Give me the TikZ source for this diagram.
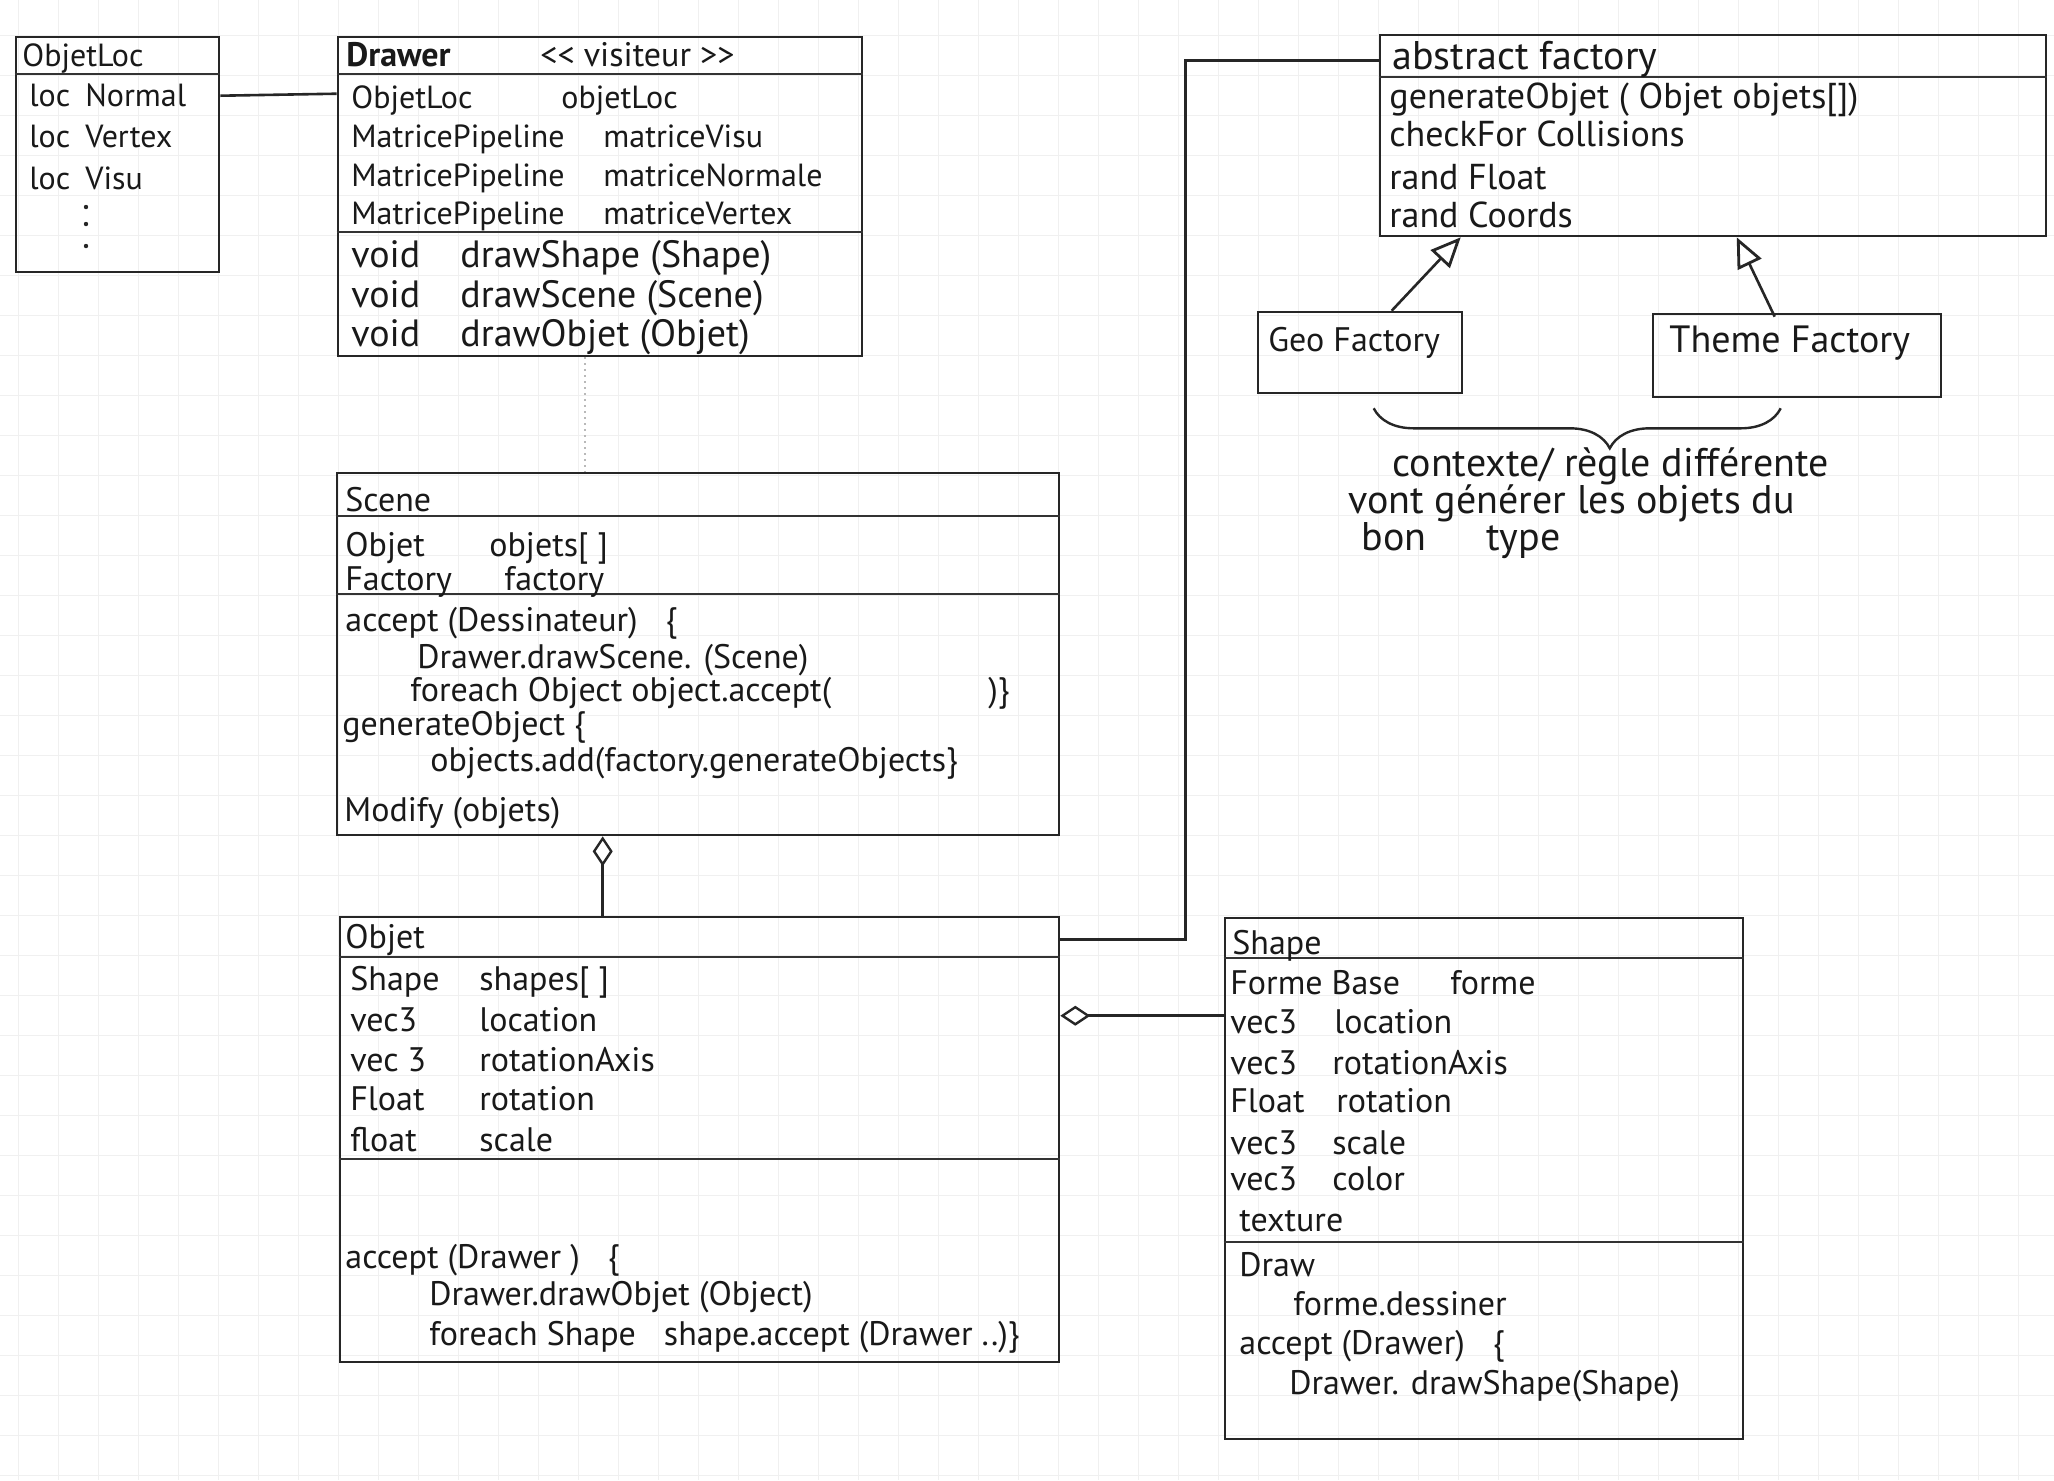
\documentclass[tikz,border=0pt]{standalone}
\usepackage{fontspec}
\setmainfont{PT Sans}
\usetikzlibrary{fit,calc,arrows.meta,decorations.pathreplacing}

\tikzset{
  box/.style={draw=black!85, line width=1.3pt, inner sep=0pt, rectangle},
  rule/.style={draw=black!80, line width=1.2pt},
  link/.style={draw=black!85, line width=1.3pt},
  gridline/.style={draw=gray!12, line width=0.5pt},
  agg/.style={link, -{Diamond[open, length=15pt, width=10pt, line width=1.2pt]}},
  inh/.style={link, -{Triangle[open, length=15pt, width=13pt, line width=1.4pt]}},
  txt/.style={anchor=base west, inner sep=0pt, text=black!90},
  f16/.style={txt, font=\fontsize{16}{18}\selectfont},
  f17/.style={txt, font=\fontsize{17}{19}\selectfont},
  f18/.style={txt, font=\fontsize{18}{20}\selectfont},
  f19/.style={txt, font=\fontsize{19}{21}\selectfont},
  f20/.style={txt, font=\fontsize{20}{22}\selectfont},
}

\begin{document}
\begin{tikzpicture}[x=0.5pt, y=-0.5pt]
\useasboundingbox (0,0) rectangle (2054,1480);
\fill[white] (0,0) rectangle (2054,1480);

% graph paper
\foreach \i in {0,...,50} \draw[gridline] ({18+40*\i},0) -- ({18+40*\i},1480);
\foreach \j in {0,...,36} \draw[gridline] (0,{35+40*\j}) -- (2054,{35+40*\j});

% ---------- class boxes ----------
\node[box, fit={(16,37) (219,272)}]    (objetloc) {};
\node[box, fit={(338,37) (862,356)}]   (drawer) {};
\node[box, fit={(1380,35) (2046,236)}] (absfact) {};
\node[box, fit={(1258,312) (1462,393)}] (geofact) {};
\node[box, fit={(1653,314) (1941,397)}] (themefact) {};
\node[box, fit={(337,473) (1059,835)}]  (scene) {};
\node[box, fit={(340,917) (1059,1362)}] (objet) {};
\node[box, fit={(1225,918) (1743,1439)}] (shape) {};

% compartment rules
\draw[rule] ($(objetloc.north west)+(0,38)$) -- ($(objetloc.north east)+(0,38)$);
\draw[rule] ($(drawer.north west)+(0,38)$) -- ($(drawer.north east)+(0,38)$);
\draw[rule] ($(drawer.north west)+(0,196)$) -- ($(drawer.north east)+(0,196)$);
\draw[rule] ($(absfact.north west)+(0,43)$) -- ($(absfact.north east)+(0,43)$);
\draw[rule] ($(scene.north west)+(0,44)$) -- ($(scene.north east)+(0,44)$);
\draw[rule] ($(scene.north west)+(0,122)$) -- ($(scene.north east)+(0,122)$);
\draw[rule] ($(objet.north west)+(0,41)$) -- ($(objet.north east)+(0,41)$);
\draw[rule] ($(objet.north west)+(0,243)$) -- ($(objet.north east)+(0,243)$);
\draw[rule] ($(shape.north west)+(0,41)$) -- ($(shape.north east)+(0,41)$);
\draw[rule] ($(shape.north west)+(0,325)$) -- ($(shape.north east)+(0,325)$);

% ---------- ObjetLoc ----------
\node[f16] (ol-h) at (22,66) {ObjetLoc};
\node[f16] (ol-1a) at (29,106) {loc};
\node[f16] (ol-1b) at (85,106) {Normal};
\node[f16] (ol-2a) at (29,147) {loc};
\node[f16] (ol-2b) at (85,147) {Vertex};
\node[f16] (ol-3a) at (29,189) {loc};
\node[f16] (ol-3b) at (85,189) {Visu};
\fill[black!85] (86,207) circle (2.2) (86,224) circle (2.2) (86,246) circle (2.2);

% ---------- Drawer ----------
\node[f17] (dr-h) at (346,66) {\textbf{Drawer}};
\node[f17] (dr-st) at (540,66) {{<}{<} visiteur {>}{>}};
\node[f16] (dr-1a) at (351,108) {ObjetLoc};
\node[f16] (dr-1b) at (561,108) {objetLoc};
\node[f16] (dr-2a) at (351,147) {MatricePipeline};
\node[f16] (dr-2b) at (603,147) {matriceVisu};
\node[f16] (dr-3a) at (351,186) {MatricePipeline};
\node[f16] (dr-3b) at (603,186) {matriceNormale};
\node[f16] (dr-4a) at (351,224) {MatricePipeline};
\node[f16] (dr-4b) at (603,224) {matriceVertex};
\node[f19] (dr-m1a) at (351,267) {void};
\node[f19] (dr-m1b) at (460,267) {drawShape (Shape)};
\node[f19] (dr-m2a) at (351,307) {void};
\node[f19] (dr-m2b) at (460,307) {drawScene (Scene)};
\node[f19] (dr-m3a) at (351,346) {void};
\node[f19] (dr-m3b) at (460,346) {drawObjet (Objet)};

% ---------- abstract factory ----------
\node[f20] (af-h) at (1392,69) {abstract factory};
\node[f18] (af-1) at (1389,108) {generateObjet ( Objet objets[])};
\node[f18] (af-2) at (1389,146) {checkFor Collisions};
\node[f18] (af-3) at (1389,189) {rand Float};
\node[f18] (af-4) at (1389,227) {rand Coords};

\node[f17] (gf) at (1268,351) {Geo Factory};
\node[f19] (tf) at (1669,352) {Theme Factory};

% ---------- Scene ----------
\node[f17] (sc-h) at (345,511) {Scene};
\node[f17] (sc-1a) at (345,556) {Objet};
\node[f17] (sc-1b) at (489,556) {objets[ ]};
\node[f17] (sc-2a) at (345,590) {Factory};
\node[f17] (sc-2b) at (504,590) {factory};
\node[f17] (sc-3) at (345,631) {accept (Dessinateur)\hspace{14pt}\{};
\node[f17] (sc-4) at (417,668) {Drawer.drawScene. (Scene)};
\node[f17] (sc-5) at (410,701) {foreach Object object.accept(};
\node[f17] (sc-5e) at (988,701) {)\}};
\node[f17] (sc-6) at (342,735) {generateObject \{};
\node[f17] (sc-7) at (430,771) {objects.add(factory.generateObjects\}};
\node[f17] (sc-8) at (344,821) {Modify (objets)};

% ---------- Objet ----------
\node[f17] (ob-h) at (345,948) {Objet};
\node[f17] (ob-1a) at (350,990) {Shape};
\node[f17] (ob-1b) at (479,990) {shapes[ ]};
\node[f17] (ob-2a) at (350,1031) {vec3};
\node[f17] (ob-2b) at (479,1031) {location};
\node[f17] (ob-3a) at (350,1071) {vec 3};
\node[f17] (ob-3b) at (479,1071) {rotationAxis};
\node[f17] (ob-4a) at (350,1110) {Float};
\node[f17] (ob-4b) at (479,1110) {rotation};
\node[f17] (ob-5a) at (350,1151) {float};
\node[f17] (ob-5b) at (479,1151) {scale};
\node[f17] (ob-m1) at (345,1268) {accept (Drawer )\hspace{14pt}\{};
\node[f17] (ob-m2) at (429,1305) {Drawer.drawObjet (Object)};
\node[f17] (ob-m3) at (429,1345) {foreach Shape\hspace{14pt}shape.accept (Drawer ..)\}};

% ---------- Shape ----------
\node[f17] (sh-h) at (1232,954) {Shape};
\node[f17] (sh-1a) at (1230,994) {Forme Base};
\node[f17] (sh-1b) at (1450,994) {forme};
\node[f17] (sh-2a) at (1230,1033) {vec3};
\node[f17] (sh-2b) at (1334,1033) {location};
\node[f17] (sh-3a) at (1230,1074) {vec3};
\node[f17] (sh-3b) at (1332,1074) {rotationAxis};
\node[f17] (sh-4a) at (1230,1112) {Float};
\node[f17] (sh-4b) at (1336,1112) {rotation};
\node[f17] (sh-5a) at (1230,1154) {vec3};
\node[f17] (sh-5b) at (1332,1154) {scale};
\node[f17] (sh-6a) at (1230,1190) {vec3};
\node[f17] (sh-6b) at (1332,1190) {color};
\node[f17] (sh-7) at (1239,1231) {texture};
\node[f17] (sh-m1) at (1239,1276) {Draw};
\node[f17] (sh-m2) at (1293,1315) {forme.dessiner};
\node[f17] (sh-m3) at (1239,1354) {accept (Drawer)\hspace{14pt}\{};
\node[f17] (sh-m4) at (1289,1394) {Drawer. drawShape(Shape)};

% ---------- note under the factories ----------
\node[f20] (nt-1) at (1392,476) {contexte/ règle différente};
\node[f20] (nt-2) at (1348,513) {vont générer les objets du};
\node[f20] (nt-3) at (1361,550) {bon\hspace{30pt}type};
\draw[link, line width=1.2pt, decorate,
      decoration={brace, mirror, amplitude=20pt, aspect=0.58}]
  ($(geofact.south west)+(117,14)$) -- ($(themefact.south west)+(129,10)$);

% ---------- connectors ----------
% ObjetLoc -- Drawer
\draw[link] ($(objetloc.north east)+(0,60)$) -- ($(drawer.north west)+(0,58)$);
% Drawer ... Scene
\draw[draw=gray!55, line width=1pt, dotted] ($(drawer.south west)+(248,0)$) -- ($(scene.north west)+(249,0)$);
% Scene <>-- Objet
\draw[agg] ($(objet.north west)+(264,0)$) -- ($(scene.south west)+(267,0)$);
% Objet <>-- Shape
\draw[agg] ($(shape.north west)+(0,99)$) -- ($(objet.north east)+(0,100)$);
% Objet -- abstract factory
\draw[link] ($(objet.north east)+(0,24)$) -| ($(absfact.north west)+(-193,27)$) -- ($(absfact.north west)+(0,27)$);
% factories inherit from the abstract factory
\draw[inh] ($(geofact.north west)+(135,0)$) -- ($(absfact.south west)+(82,0)$);
\draw[inh] ($(themefact.north west)+(123,4)$) -- ($(absfact.south west)+(358,0)$);

\end{tikzpicture}
\end{document}
